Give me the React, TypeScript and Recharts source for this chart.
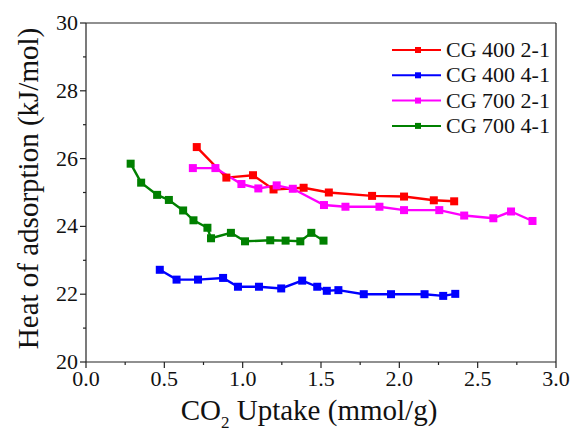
import { LineChart, Line, XAxis, YAxis, ReferenceLine, Legend } from "recharts"

const FONT = "'Liberation Serif', 'Times New Roman', serif"
const AXIS = "#222"

// CO2 uptake (mmol/g) vs heat of adsorption (kJ/mol)
const cg400_21_x = [0.707, 0.896, 1.066, 1.197, 1.389, 1.55, 1.826, 2.03, 2.22, 2.35]
const cg400_21_y = [26.34, 25.44, 25.51, 25.09, 25.14, 25.0, 24.9, 24.88, 24.77, 24.74]

const cg400_41_x = [0.471, 0.578, 0.715, 0.875, 0.97, 1.104, 1.246, 1.38, 1.476, 1.537, 1.611, 1.773, 1.947, 2.161, 2.28, 2.357]
const cg400_41_y = [22.72, 22.43, 22.43, 22.48, 22.22, 22.22, 22.17, 22.4, 22.22, 22.1, 22.12, 22.0, 22.0, 22.0, 21.95, 22.01]

const cg700_21_x = [0.682, 0.826, 0.992, 1.1, 1.217, 1.32, 1.519, 1.656, 1.873, 2.03, 2.255, 2.414, 2.6, 2.713, 2.85]
const cg700_21_y = [25.72, 25.72, 25.25, 25.12, 25.21, 25.11, 24.63, 24.58, 24.58, 24.48, 24.48, 24.32, 24.24, 24.44, 24.16]

const cg700_41_x = [0.285, 0.352, 0.454, 0.529, 0.62, 0.686, 0.775, 0.798, 0.925, 1.015, 1.176, 1.274, 1.368, 1.438, 1.516]
const cg700_41_y = [25.85, 25.29, 24.93, 24.78, 24.47, 24.18, 23.96, 23.65, 23.81, 23.56, 23.59, 23.58, 23.56, 23.81, 23.58]

const xTicks = [0, 0.25, 0.5, 0.75, 1, 1.25, 1.5, 1.75, 2, 2.25, 2.5, 2.75, 3]
const yTicks = [20, 21, 22, 23, 24, 25, 26, 27, 28, 29, 30]

const toPoints = (xs: number[], ys: number[]) => xs.map((x, i) => ({ x, y: ys[i] }))

const series = [
  { name: "CG 400 2-1", color: "#ff0000", data: toPoints(cg400_21_x, cg400_21_y) },
  { name: "CG 400 4-1", color: "#0000ff", data: toPoints(cg400_41_x, cg400_41_y) },
  { name: "CG 700 2-1", color: "#ff00ff", data: toPoints(cg700_21_x, cg700_21_y) },
  { name: "CG 700 4-1", color: "#008000", data: toPoints(cg700_41_x, cg700_41_y) },
]

const XTick = (props: any) => {
  const { x, y, payload } = props
  const v = payload.value
  const major = Math.abs(v * 2 - Math.round(v * 2)) < 1e-6
  return (
    <g>
      <line x1={x} x2={x} y1={y} y2={y + (major ? 6 : 3)} stroke={AXIS} strokeWidth={1.2} />
      {major && (
        <text x={x} y={y + 24} textAnchor="middle" fontFamily={FONT} fontSize={22} fill="#111">
          {v.toFixed(1)}
        </text>
      )}
    </g>
  )
}

const YTick = (props: any) => {
  const { x, y, payload } = props
  const v = payload.value
  const major = v % 2 === 0
  return (
    <g>
      <line x1={x} x2={x - (major ? 6 : 3)} y1={y} y2={y} stroke={AXIS} strokeWidth={1.2} />
      {major && (
        <text x={x - 8} y={y + 7} textAnchor="end" fontFamily={FONT} fontSize={22} fill="#111">
          {v}
        </text>
      )}
    </g>
  )
}

const SquareDot = (color: string, size: number) => (props: any) => {
  const { cx, cy, index } = props
  return <rect key={index} x={cx - size / 2} y={cy - size / 2} width={size} height={size} fill={color} />
}

const LegendBox = () => (
  <svg width={574} height={437} style={{ position: "absolute", left: 0, top: 0 }}>
    {series.map((s, i) => {
      const y = 50 + i * 25.3
      return (
        <g key={s.name}>
          <line x1={392} x2={441} y1={y} y2={y} stroke={s.color} strokeWidth={2} />
          <rect x={415} y={y - 3} width={6} height={6} fill={s.color} />
          <text x={446} y={y + 7} fontFamily={FONT} fontSize={22} fill="#111">
            {s.name}
          </text>
        </g>
      )
    })}
  </svg>
)

export default function App() {
  return (
    <div style={{ position: "absolute", left: 0, top: 0, background: "#fff" }}>
      <LineChart width={574} height={437} margin={{ top: 23, right: 18, bottom: 0, left: 0 }}>
        <XAxis
          type="number"
          dataKey="x"
          domain={[0, 3]}
          ticks={xTicks}
          interval={0}
          allowDataOverflow
          tickSize={0}
          tickMargin={0}
          tickLine={false}
          tick={<XTick />}
          height={75}
          axisLine={{ stroke: AXIS, strokeWidth: 1.2 }}
          label={{
            content: (p: any) => {
              const vb = p.viewBox
              return (
                <text x={vb.x + vb.width / 2 - 12} y={vb.y + 58} textAnchor="middle" fontFamily={FONT} fontSize={29} fill="#111">
                  CO<tspan fontSize={17} dy={8}>2</tspan>
                  <tspan dy={-8}> Uptake (mmol/g)</tspan>
                </text>
              )
            },
          }}
        />
        <YAxis
          type="number"
          domain={[20, 30]}
          ticks={yTicks}
          interval={0}
          allowDataOverflow
          tickSize={0}
          tickMargin={0}
          tickLine={false}
          tick={<YTick />}
          width={86}
          axisLine={{ stroke: AXIS, strokeWidth: 1.2 }}
          label={{
            content: (p: any) => {
              const vb = p.viewBox
              const cy = vb.y + vb.height / 2 - 4
              return (
                <text
                  x={28}
                  y={cy}
                  transform={`rotate(-90, 28, ${cy})`}
                  textAnchor="middle"
                  dominantBaseline="central"
                  fontFamily={FONT}
                  fontSize={29}
                  fill="#111"
                >
                  Heat of adsorption (kJ/mol)
                </text>
              )
            },
          }}
        />
        <ReferenceLine y={30} stroke={AXIS} strokeWidth={1.2} />
        <ReferenceLine x={3} stroke={AXIS} strokeWidth={1.2} />
        {series.map((s) => (
          <Line
            key={s.name}
            data={s.data}
            dataKey="y"
            name={s.name}
            stroke={s.color}
            strokeWidth={2.4}
            dot={SquareDot(s.color, 8)}
            activeDot={false}
            isAnimationActive={false}
          />
        ))}
        <Legend
          layout="horizontal"
          verticalAlign="middle"
          align="center"
          content={() => <LegendBox />}
          wrapperStyle={{ left: 0, top: 0, width: 574, height: 437, pointerEvents: "none" }}
        />
      </LineChart>
    </div>
  )
}
